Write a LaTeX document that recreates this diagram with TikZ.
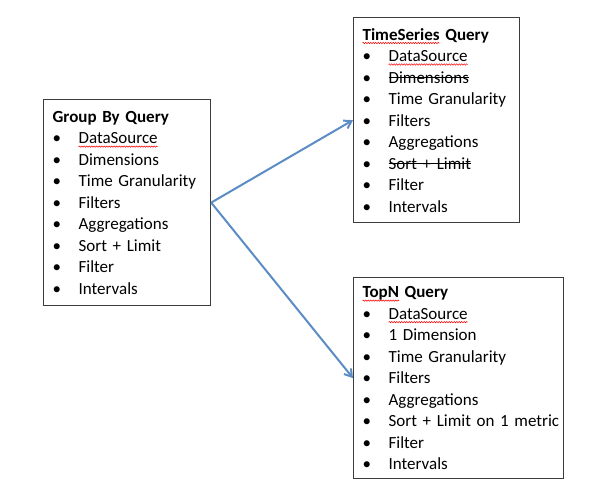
\documentclass[tikz,border=0pt]{standalone}
\usepackage{fontspec}
\setmainfont{Carlito}[WordSpace=0.85]
\usetikzlibrary{arrows.meta,decorations.pathmorphing}
\definecolor{arrowblue}{RGB}{91,140,196}
\definecolor{boxline}{RGB}{60,60,60}
\newlength{\markw}
% spell-check squiggle and strike-through
\newcommand{\spellwave}[1]{\settowidth{\markw}{#1}\rlap{\tikz[overlay,baseline=0pt]
  \draw[red, line width=0.5pt, decorate, decoration={zigzag, segment length=2.5pt, amplitude=0.7pt}]
  (0pt,-3pt) -- (\markw,-3pt);}#1}
\newcommand{\strike}[1]{\settowidth{\markw}{#1}\rlap{\rule[0.3em]{\markw}{0.9pt}}#1}
\newcommand{\qitem}[1]{\mbox{\makebox[26pt][l]{\textbullet}#1}}
\tikzset{
  qbox/.style={draw=boxline, line width=1.2pt, anchor=north west, align=left,
    inner xsep=9pt, font=\fontsize{17}{21.5}\selectfont},
  flow/.style={draw=arrowblue, line width=2pt, -{Straight Barb[length=7pt,width=9pt]}}
}
\begin{document}
\begin{tikzpicture}[x=1pt, y=-1pt]
    \useasboundingbox (0,0) rectangle (598,493);
    % Group By query
    \node[qbox, minimum width=167pt, minimum height=206pt, text width=149pt] (gb) at (43,99) {
      \textbf{Group By Query}\\
      \qitem{\spellwave{DataSource}}\\
      \qitem{Dimensions}\\
      \qitem{Time Granularity}\\
      \qitem{Filters}\\
      \qitem{Aggregations}\\
      \qitem{Sort + Limit}\\
      \qitem{Filter}\\
      \qitem{Intervals}};
    % TimeSeries query
    \node[qbox, minimum width=166pt, minimum height=205pt, text width=148pt] (ts) at (353,17) {
      \textbf{\spellwave{TimeSeries} Query}\\
      \qitem{\spellwave{DataSource}}\\
      \qitem{\strike{Dimensions}}\\
      \qitem{Time Granularity}\\
      \qitem{Filters}\\
      \qitem{Aggregations}\\
      \qitem{\strike{Sort + Limit}}\\
      \qitem{Filter}\\
      \qitem{Intervals}};
    % TopN query
    \node[qbox, minimum width=210pt, minimum height=201pt, text width=192pt] (topn) at (353,277) {
      \textbf{\spellwave{TopN} Query}\\
      \qitem{\spellwave{DataSource}}\\
      \qitem{1 Dimension}\\
      \qitem{Time Granularity}\\
      \qitem{Filters}\\
      \qitem{Aggregations}\\
      \qitem{Sort + Limit on 1 metric}\\
      \qitem{Filter}\\
      \qitem{Intervals}};
    % Arrows
    \draw[flow] (gb.east) -- (ts.west);
    \draw[flow] (gb.east) -- (topn.west);
\end{tikzpicture}
\end{document}
